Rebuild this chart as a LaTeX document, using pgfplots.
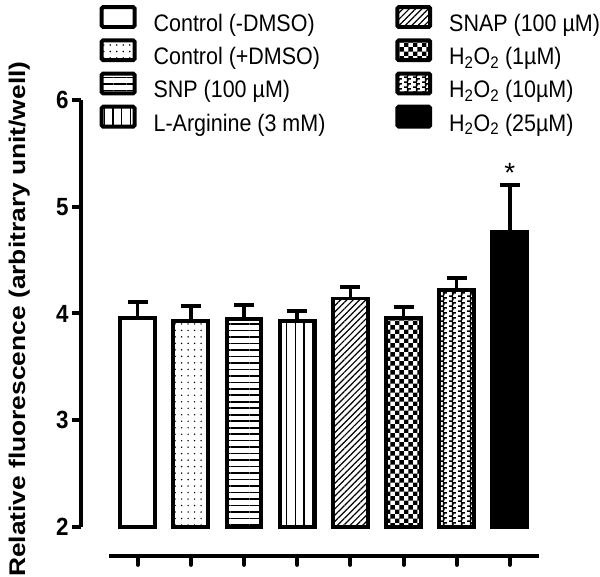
\documentclass[border=0pt]{standalone}
\usepackage{fontspec}
\usepackage{graphicx}
\setmainfont{Liberation Sans}
\newfontfamily\narrow[FakeStretch=0.9]{Liberation Sans}
\usepackage{pgfplots}
\pgfplotsset{compat=1.18}
\usetikzlibrary{patterns,patterns.meta}

\pgfdeclarepatternformonly{mycheck}{\pgfqpoint{0bp}{0bp}}{\pgfqpoint{9bp}{9bp}}{\pgfqpoint{9bp}{9bp}}{%
 \pgfpathrectangle{\pgfqpoint{0bp}{0bp}}{\pgfqpoint{4.5bp}{4.5bp}}%
 \pgfpathrectangle{\pgfqpoint{4.5bp}{4.5bp}}{\pgfqpoint{4.5bp}{4.5bp}}%
 \pgfusepath{fill}}
\pgfdeclarepatternformonly{myzig}{\pgfqpoint{0bp}{0bp}}{\pgfqpoint{9bp}{5bp}}{\pgfqpoint{9bp}{5bp}}{%
 \pgfpathrectangle{\pgfqpoint{0bp}{0bp}}{\pgfqpoint{4bp}{1.7bp}}%
 \pgfpathrectangle{\pgfqpoint{3bp}{1.7bp}}{\pgfqpoint{1.7bp}{1.6bp}}%
 \pgfpathrectangle{\pgfqpoint{3bp}{3.3bp}}{\pgfqpoint{4bp}{1.7bp}}%
 \pgfusepath{fill}}

\pgfplotsset{mybar/.style={ybar, bar width=35bp, bar shift=0pt, draw=black, line width=4bp,
  error bars/y dir=plus, error bars/y explicit,
  error bars/error bar style={line width=3.5bp, black},
  error bars/error mark options={line width=4bp, mark size=10bp, black, rotate=90}}}

\begin{document}
\begin{tikzpicture}
\begin{axis}[
  scale only axis,
  width=462bp, height=457bp,
  xmin=-1.07, xmax=7.6,
  ymin=1.73, ymax=6,
  y coord trafo/.code={\pgfmathparse{#1-2}},
  clip=false,
  axis line style={draw=none},
  tick pos=left, tick align=outside,
  major tick length=10bp,
  tick style={draw=none},
  xtick={0,...,7}, xticklabels={},
  ytick={2,3,4,5,6}, yticklabels={2,3,4,5,6},
  /pgf/number format/assume math mode=true,
  y tick label style={font=\narrow\bfseries\fontsize{25}{28}\selectfont, inner sep=2bp},
  ylabel={\scalebox{1}[0.86]{Relative fluorescence (arbitrary unit/well)}},
  ylabel style={font=\bfseries\fontsize{26.5}{30}\selectfont, at={(rel axis cs:-0.11,0.519)}, anchor=south, inner sep=0pt},
  legend columns=2,
  legend image code/.code={\draw[#1, line width=4bp, rounded corners=1.5bp] (0bp,-1.5bp) rectangle (33bp,18.5bp);},
  legend style={draw=none, fill=none, at={(rel axis cs:0,1)}, anchor=north west,
    xshift=19bp, yshift=95bp, inner sep=0pt, outer sep=0pt,
    font=\narrow\fontsize{24}{28}\selectfont,
    nodes={inner sep=0pt, text height=17bp, text depth=5bp},
    row sep=1.8bp,
    /tikz/every odd column/.style={column sep=17bp},
    /tikz/column 2/.style={column sep=70bp}},
  legend cell align=left,
]
% interleaved order for two-column legend
\addplot[mybar, fill=white] coordinates {(0,3.96) +- (0,0.15)};
\addlegendentry{Control (-DMSO)}
\addplot[mybar, pattern={Lines[angle=45, distance=4.5bp, line width=1.2bp]}] coordinates {(4,4.14) +- (0,0.11)};
\addlegendentry{SNAP (100 µM)}
\addplot[mybar, pattern={Dots[distance=6.5bp, radius=0.8bp]}] coordinates {(1,3.93) +- (0,0.14)};
\addlegendentry{Control (+DMSO)}
\addplot[mybar, pattern=mycheck] coordinates {(5,3.96) +- (0,0.10)};
\addlegendentry{H\textsubscript{2}O\textsubscript{2} (1µM)}
\addplot[mybar, pattern={Lines[angle=0, distance=6.5bp, line width=1.6bp]}] coordinates {(2,3.95) +- (0,0.13)};
\addlegendentry{SNP (100 µM)}
\addplot[mybar, pattern=myzig] coordinates {(6,4.22) +- (0,0.11)};
\addlegendentry{H\textsubscript{2}O\textsubscript{2} (10µM)}
\addplot[mybar, pattern={Lines[angle=90, distance=8.7bp, line width=1.3bp]}] coordinates {(3,3.93) +- (0,0.09)};
\addlegendentry{L-Arginine (3 mM)}
\addplot[mybar, fill=black] coordinates {(7,4.76) +- (0,0.44)};
\addlegendentry{H\textsubscript{2}O\textsubscript{2} (25µM)}
% axis lines (Prism style)
\draw[line width=4bp] (axis cs:-1.07,2) -- (axis cs:-1.07,6);
\draw[line width=4bp] (axis cs:-0.53,1.73) -- (axis cs:7.54,1.73);
% ticks
\draw[line width=4bp] ([xshift=-9bp]axis cs:-1.07,2) -- (axis cs:-1.07,2);
\draw[line width=4bp] ([xshift=-9bp]axis cs:-1.07,3) -- (axis cs:-1.07,3);
\draw[line width=4bp] ([xshift=-9bp]axis cs:-1.07,4) -- (axis cs:-1.07,4);
\draw[line width=4bp] ([xshift=-9bp]axis cs:-1.07,5) -- (axis cs:-1.07,5);
\draw[line width=4bp] ([xshift=-9bp]axis cs:-1.07,6) -- (axis cs:-1.07,6);
\draw[line width=4bp, line cap=round] (axis cs:0,1.73) -- ([yshift=-9bp]axis cs:0,1.73);
\draw[line width=4bp, line cap=round] (axis cs:1,1.73) -- ([yshift=-9bp]axis cs:1,1.73);
\draw[line width=4bp, line cap=round] (axis cs:2,1.73) -- ([yshift=-9bp]axis cs:2,1.73);
\draw[line width=4bp, line cap=round] (axis cs:3,1.73) -- ([yshift=-9bp]axis cs:3,1.73);
\draw[line width=4bp, line cap=round] (axis cs:4,1.73) -- ([yshift=-9bp]axis cs:4,1.73);
\draw[line width=4bp, line cap=round] (axis cs:5,1.73) -- ([yshift=-9bp]axis cs:5,1.73);
\draw[line width=4bp, line cap=round] (axis cs:6,1.73) -- ([yshift=-9bp]axis cs:6,1.73);
\draw[line width=4bp, line cap=round] (axis cs:7,1.73) -- ([yshift=-9bp]axis cs:7,1.73);
\node[font=\fontsize{28}{30}\selectfont, anchor=south, inner sep=0pt] at (axis cs:7,5.22) {*};
% picture extent
\path (axis cs:-2.589,6.935) (axis cs:8.668,1.570);
\end{axis}
\end{tikzpicture}
\end{document}
